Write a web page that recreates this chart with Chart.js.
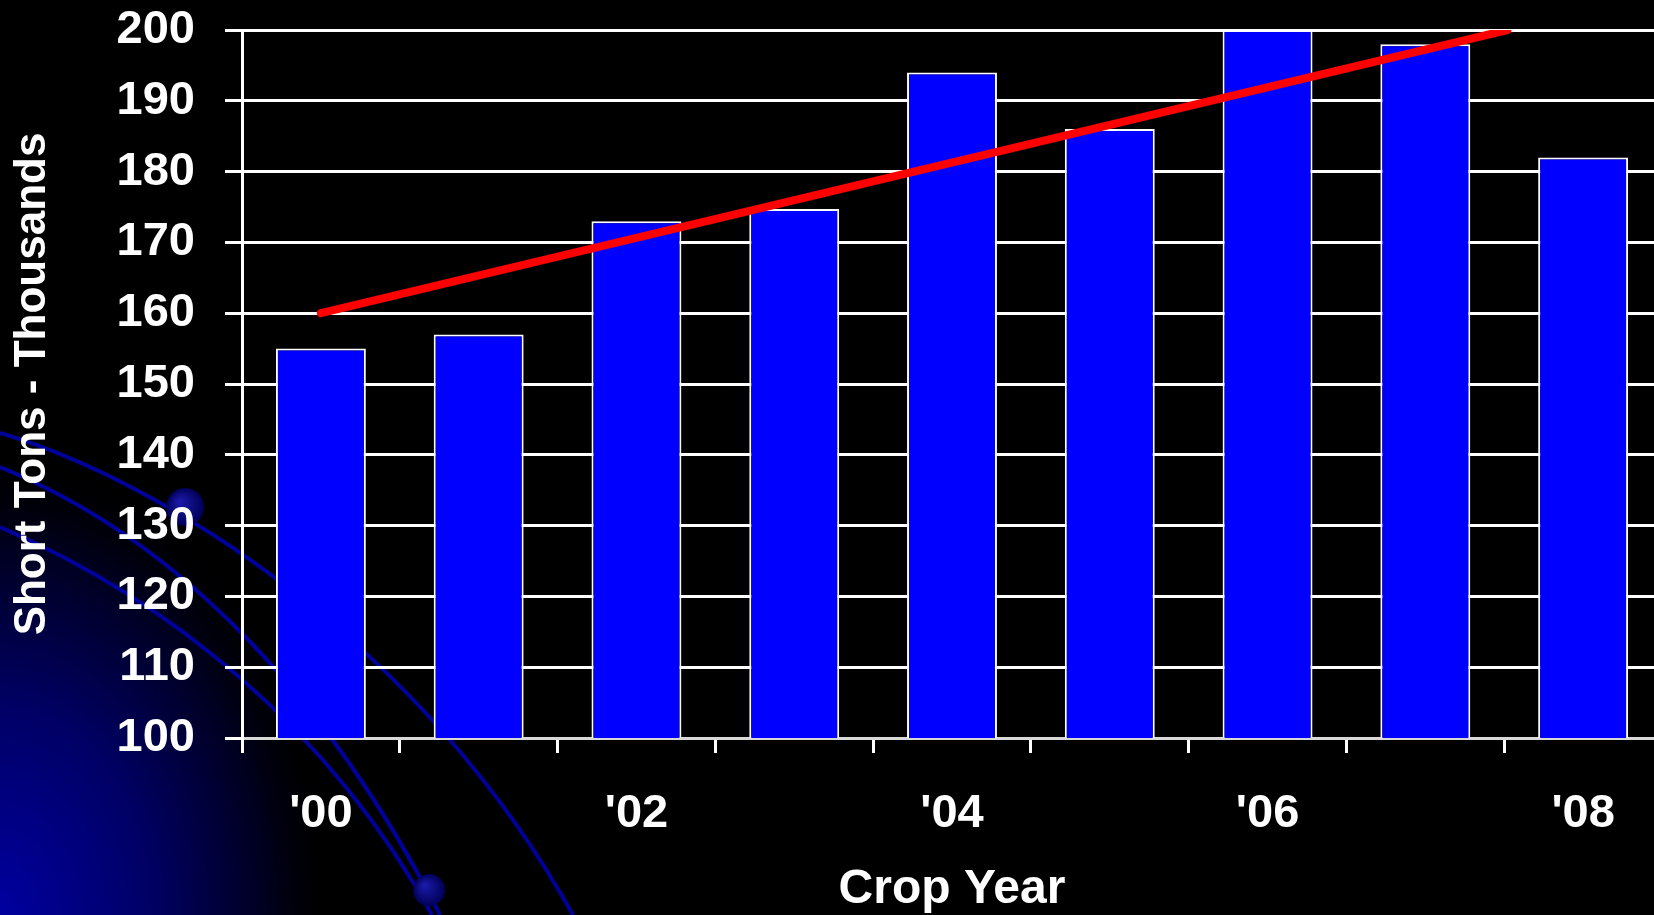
<!DOCTYPE html>
<html>
<head>
<meta charset="utf-8">
<script src="https://cdn.jsdelivr.net/npm/chart.js@4/dist/chart.umd.min.js"></script>
<style>
  html, body { margin: 0; padding: 0; background: #000; overflow: hidden; }
  #caja { position: absolute; left: 0; top: 0; width: 1662px; height: 915px; }
</style>
</head>
<body>
<div id="caja"><canvas id="grafico"></canvas></div>
<script>
// datos
const anios = ["'00", "'01", "'02", "'03", "'04", "'05", "'06", "'07", "'08"];
const toneladas = [155, 157, 173, 174.7, 194, 186, 200, 198, 182];
const tendenciaX = [0, 7.52];
const tendenciaY = [160, 200];
const ticksY = [100, 110, 120, 130, 140, 150, 160, 170, 180, 190, 200];

// adorno de la plantilla: degradado y curvas azules en la esquina
const curvas = [
  [0, 433, 160, 480, 420, 640, 573, 915],
  [0, 467, 180, 540, 330, 700, 440, 915],
  [0, 527, 170, 600, 330, 730, 432, 915]
];
const esferas = [[185, 507, 19], [429, 890, 16]];

const fondo = {
  id: 'fondo',
  beforeDraw(chart) {
    const ctx = chart.ctx; const w = chart.width, h = chart.height;
    ctx.save();
    ctx.fillStyle = '#000'; ctx.fillRect(0, 0, w, h);
    ctx.save();
    ctx.translate(0, h); ctx.scale(0.72, 1);
    let g = ctx.createRadialGradient(0, 0, 0, 0, 0, 470);
    g.addColorStop(0, '#0000a0'); g.addColorStop(0.45, '#000064'); g.addColorStop(0.8, '#00001c'); g.addColorStop(1, 'rgba(0,0,0,0)');
    ctx.fillStyle = g; ctx.fillRect(0, -h, w / 0.72, h);
    ctx.restore();
    ctx.strokeStyle = '#00009a'; ctx.lineWidth = 4;
    curvas.forEach(c => { ctx.beginPath(); ctx.moveTo(c[0], c[1]); ctx.bezierCurveTo(c[2], c[3], c[4], c[5], c[6], c[7]); ctx.stroke(); });
    esferas.forEach(e => {
      let r = ctx.createRadialGradient(e[0] - e[2] * 0.3, e[1] - e[2] * 0.3, 1, e[0], e[1], e[2]);
      r.addColorStop(0, '#1a1aa8'); r.addColorStop(1, '#000058');
      ctx.fillStyle = r; ctx.beginPath(); ctx.arc(e[0], e[1], e[2], 0, Math.PI * 2); ctx.fill();
    });
    ctx.restore();
  }
};

const fuente = { family: "'Liberation Sans', Arial, sans-serif", weight: 'bold' };

new Chart(document.getElementById('grafico'), {
  data: {
    labels: anios,
    datasets: [
      { type: 'line', label: 'Tendencia', xAxisID: 'x2', order: 0,
        data: tendenciaX.map((x, i) => ({ x: x, y: tendenciaY[i] })),
        borderColor: '#ff0000', borderWidth: 8, borderCapStyle: 'round', pointRadius: 0, tension: 0 },
      { type: 'bar', label: 'Toneladas', xAxisID: 'x', order: 1, data: toneladas, grouped: false,
        backgroundColor: '#0000ff', borderColor: '#ffffff', borderWidth: 2,
        barPercentage: 0.57, categoryPercentage: 1 }
    ]
  },
  options: {
    responsive: true, maintainAspectRatio: false, animation: false,
    layout: { padding: { top: 30, left: 0, right: 0, bottom: 0 } },
    plugins: { legend: { display: false }, tooltip: { enabled: false } },
    scales: {
      x: {
        type: 'category', offset: true,
        grid: { offset: true, drawOnChartArea: false, drawTicks: true, tickLength: 15, color: '#ffffff', lineWidth: 3 },
        border: { color: '#d8d8d8', width: 3 },
        ticks: { color: '#ffffff', font: { ...fuente, size: 47 }, padding: 33, autoSkip: false, maxRotation: 0,
          callback: (v, i) => i % 2 === 0 ? anios[i] : '' },
        title: { display: true, text: 'Crop Year', color: '#ffffff', font: { ...fuente, size: 48, lineHeight: 1 }, padding: { top: 0, bottom: 1 } },
        afterFit: s => { s.height = 177; }
      },
      x2: { type: 'linear', display: false, min: -0.5, max: 8.5 },
      y: {
        min: 100, max: 200,
        afterBuildTicks: s => { s.ticks = ticksY.map(v => ({ value: v })); },
        grid: { color: '#ffffff', lineWidth: 3, tickLength: 17 },
        border: { color: '#ffffff', width: 3 },
        ticks: { color: '#ffffff', font: { ...fuente, size: 47 }, padding: 30 },
        title: { display: true, text: 'Short Tons - Thousands', color: '#ffffff', font: { ...fuente, size: 44 }, padding: { top: 6, bottom: 0 } },
        afterFit: s => { s.width = 242; s.paddingTop = 0; s.paddingBottom = 0; }
      }
    }
  },
  plugins: [fondo]
});
</script>
</body>
</html>
